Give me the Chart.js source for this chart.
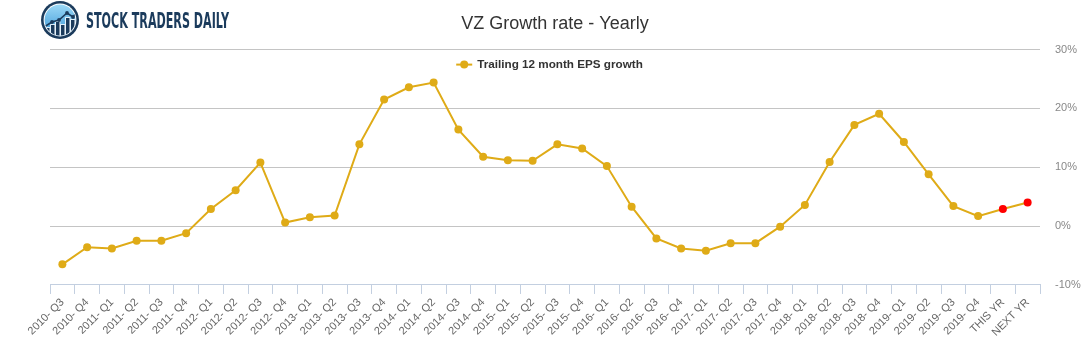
<!DOCTYPE html>
<html>
<head>
<meta charset="utf-8">
<title>VZ Growth rate - Yearly</title>
<script src="https://cdn.jsdelivr.net/npm/chart.js@4.4.1/dist/chart.umd.min.js"></script>
<style>
  html, body { margin: 0; padding: 0; background: #fff; }
  #wrap { position: relative; width: 1091px; height: 350px; }
</style>
</head>
<body>
<div id="wrap"><canvas id="growthChart" width="1091" height="350"></canvas></div>
<script>
'use strict';

// 1. DATA
const quarterLabels = [
  '2010- Q3', '2010- Q4',
  '2011- Q1', '2011- Q2', '2011- Q3', '2011- Q4',
  '2012- Q1', '2012- Q2', '2012- Q3', '2012- Q4',
  '2013- Q1', '2013- Q2', '2013- Q3', '2013- Q4',
  '2014- Q1', '2014- Q2', '2014- Q3', '2014- Q4',
  '2015- Q1', '2015- Q2', '2015- Q3', '2015- Q4',
  '2016- Q1', '2016- Q2', '2016- Q3', '2016- Q4',
  '2017- Q1', '2017- Q2', '2017- Q3', '2017- Q4',
  '2018- Q1', '2018- Q2', '2018- Q3', '2018- Q4',
  '2019- Q1', '2019- Q2', '2019- Q3', '2019- Q4'
];
const estimateLabels = ['THIS YR', 'NEXT YR'];
const categories = quarterLabels.concat(estimateLabels);

// trailing 12 month EPS growth, %
const epsGrowth = [
  -6.5, -3.6,
  -3.8, -2.5, -2.5, -1.2,
  2.9, 6.1, 10.8, 0.6,
  1.5, 1.8, 13.9, 21.5,
  23.6, 24.4, 16.4, 11.8,
  11.2, 11.1, 13.9, 13.2,
  10.2, 3.3, -2.1, -3.8,
  -4.2, -2.9, -2.9, -0.1,
  3.6, 10.9, 17.2, 19.1,
  14.3, 8.8, 3.4, 1.7,
  2.9, 4.0
];

const yMin = -10;
const yMax = 30;
const yStep = 10;

const seriesName = 'Trailing 12 month EPS growth';
const chartTitle = 'VZ Growth rate - Yearly';

// 2. STYLE
const GOLD = '#DFAB17';
const RED = '#FF0000';
const NAVY = '#1b3b5c';
const FONT = '"Liberation Sans", Arial, Helvetica, sans-serif';
const PLOT_LEFT = 50;
const PLOT_RIGHT = 1040;

const pointColors = categories.map(c => estimateLabels.includes(c) ? RED : GOLD);

// 3. LOGO + FLOATING LEGEND
function drawLogo(ctx) {
  const cx = 60, cy = 20, r = 19;
  ctx.save();
  ctx.beginPath(); ctx.arc(cx, cy, r, 0, Math.PI * 2);
  ctx.fillStyle = NAVY; ctx.fill();
  ctx.beginPath(); ctx.arc(cx, cy, r - 2.6, 0, Math.PI * 2);
  ctx.fillStyle = '#ffffff'; ctx.fill();
  const grad = ctx.createLinearGradient(0, cy - r, 0, cy + r);
  grad.addColorStop(0, '#a6e0fb');
  grad.addColorStop(1, '#3190d2');
  ctx.beginPath(); ctx.arc(cx, cy, r - 3.6, 0, Math.PI * 2);
  ctx.fillStyle = grad; ctx.fill();
  ctx.clip();

  // bars
  const bars = [[46, 28], [51, 25], [56, 22], [61, 25], [66, 18], [71, 20]];
  bars.forEach(([x, top]) => {
    ctx.fillStyle = '#ffffff';
    ctx.fillRect(x - 0.8, top - 0.8, 5.1, 40);
    ctx.fillStyle = NAVY;
    ctx.fillRect(x, top, 3.5, 40);
  });

  // trend line
  const pts = [[44, 27], [52, 22], [59, 20], [67, 13], [73, 17], [79, 9]];
  ctx.strokeStyle = NAVY; ctx.lineWidth = 1.6;
  ctx.beginPath();
  pts.forEach(([x, y], i) => i ? ctx.lineTo(x, y) : ctx.moveTo(x, y));
  ctx.stroke();
  ctx.fillStyle = NAVY;
  pts.slice(1, 5).forEach(([x, y]) => { ctx.beginPath(); ctx.arc(x, y, 1.9, 0, Math.PI * 2); ctx.fill(); });
  ctx.restore();

  // brand text, squeezed to the logo width
  ctx.save();
  ctx.font = 'bold 21px "Liberation Sans Narrow", "DejaVu Sans Condensed", sans-serif';
  const txt = 'STOCK TRADERS DAILY';
  const w = ctx.measureText(txt).width;
  ctx.translate(86, 28);
  ctx.scale(143 / w, 1);
  ctx.fillStyle = NAVY;
  ctx.textBaseline = 'alphabetic';
  ctx.fillText(txt, 0, 0);
  ctx.restore();
}

function drawLegend(chart) {
  const ctx = chart.ctx;
  ctx.save();
  ctx.font = 'bold 11.7px ' + FONT;
  const tw = ctx.measureText(seriesName).width;
  const total = 16 + 5 + tw;
  const x0 = 549.5 - total / 2;
  const y = chart.chartArea.top + 15;
  ctx.strokeStyle = GOLD;
  ctx.lineWidth = 2;
  ctx.beginPath(); ctx.moveTo(x0, y); ctx.lineTo(x0 + 16, y); ctx.stroke();
  ctx.fillStyle = GOLD;
  ctx.beginPath(); ctx.arc(x0 + 8, y, 4, 0, Math.PI * 2); ctx.fill();
  ctx.fillStyle = '#333333';
  ctx.textBaseline = 'middle';
  ctx.fillText(seriesName, x0 + 21, y + 0.5);
  ctx.restore();
}

const decorPlugin = {
  id: 'decor',
  afterDraw(chart) {
    drawLogo(chart.ctx);
    drawLegend(chart);
  }
};

// 4. CHART
const ctx = document.getElementById('growthChart').getContext('2d');
const growthChart = new Chart(ctx, {
  type: 'line',
  data: {
    labels: categories,
    datasets: [{
      label: seriesName,
      data: epsGrowth,
      borderColor: GOLD,
      borderWidth: 2,
      pointRadius: 4,
      pointHoverRadius: 4,
      pointBorderWidth: 0,
      pointBackgroundColor: pointColors,
      pointBorderColor: pointColors,
      tension: 0,
      fill: false
    }]
  },
  options: {
    responsive: false,
    devicePixelRatio: 1,
    animation: false,
    layout: { padding: { left: 19, right: 0, top: 0, bottom: 9 } },
    plugins: {
      title: {
        display: true,
        text: chartTitle,
        color: '#333333',
        font: { family: FONT, size: 18, weight: 'normal' },
        padding: { top: 13, bottom: 15 }
      },
      legend: { display: false },
      tooltip: { enabled: false }
    },
    scales: {
      x: {
        offset: true,
        grid: {
          display: true,
          offset: true,
          drawOnChartArea: false,
          drawTicks: true,
          tickLength: 9,
          color: '#c3cfe0'
        },
        border: { display: true, color: '#c3cfe0', width: 1 },
        ticks: {
          color: '#666666',
          font: { family: FONT, size: 11 },
          autoSkip: false,
          maxRotation: 45,
          minRotation: 45,
          padding: 2
        },
        afterFit: scale => { scale.paddingLeft = PLOT_LEFT; }
      },
      y: {
        position: 'right',
        min: yMin,
        max: yMax,
        border: { display: false },
        grid: {
          drawTicks: false,
          color: c => c.tick.value === yMin ? 'rgba(0,0,0,0)' : '#c4c4c4'
        },
        ticks: {
          stepSize: yStep,
          padding: 15,
          color: '#888888',
          font: { family: FONT, size: 11 },
          callback: v => v + '%'
        },
        afterFit: scale => { scale.width = 1091 - PLOT_RIGHT; }
      }
    }
  },
  plugins: [decorPlugin]
});
</script>
</body>
</html>
